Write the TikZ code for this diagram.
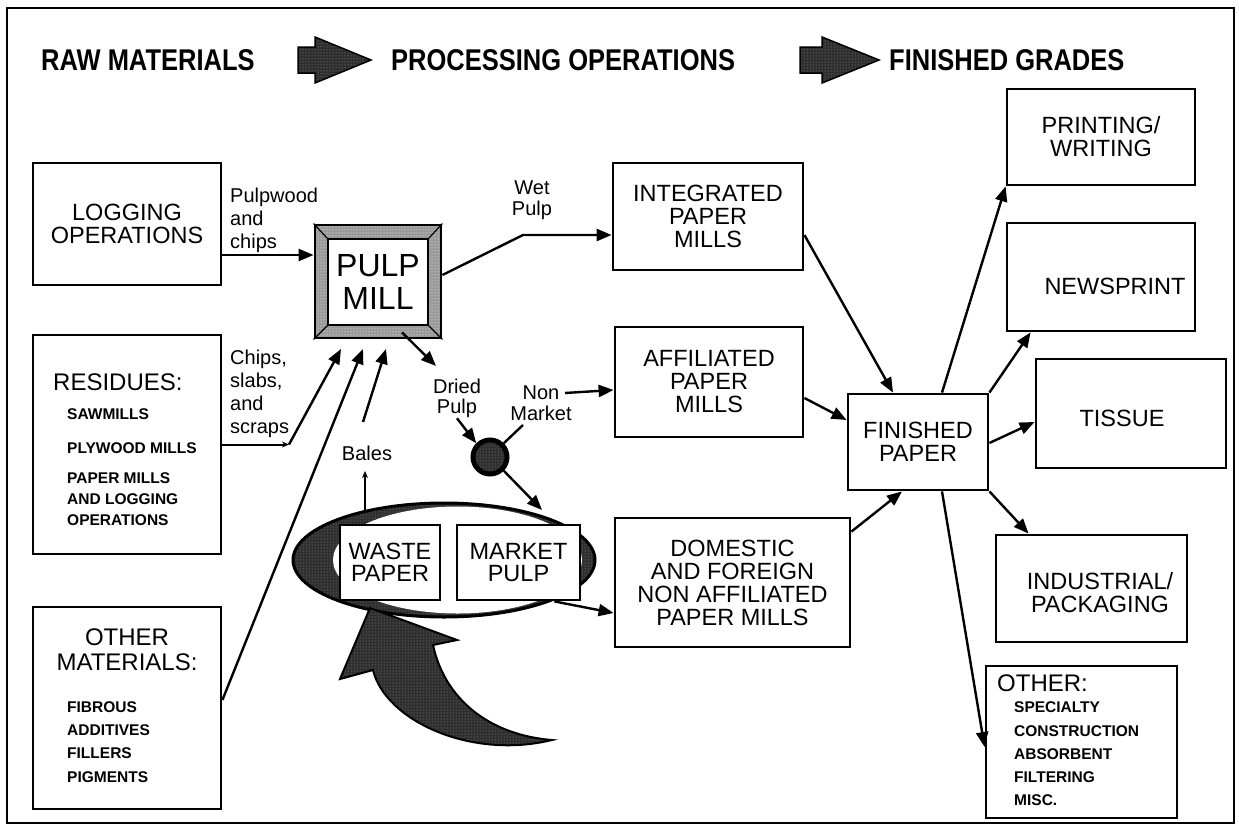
\documentclass[tikz,border=0pt]{standalone}
\usepackage{fontspec}
\setmainfont{Liberation Sans}
\newfontfamily\hdrfont[FakeStretch=0.85]{Liberation Sans}
\usetikzlibrary{arrows.meta,patterns}
\newcommand{\fsz}[2]{\fontsize{#1}{#2}\selectfont}
\begin{document}
\begin{tikzpicture}[x=1pt,y=-1pt,
  box/.style={draw,line width=2.8pt,inner sep=0pt,align=center,font=\fsz{23.5}{23}},
  btxt/.style={inner sep=0pt,align=center,font=\fsz{23.5}{23}},
  lbl/.style={inner sep=0pt,align=left,font=\fsz{20}{23}},
  clbl/.style={inner sep=0pt,align=center,font=\fsz{20}{20.5}},
  item/.style={inner sep=0pt,anchor=west,align=left,font=\bfseries\fsz{15.5}{15.5}},
  ttl/.style={inner sep=0pt,align=center,font=\fsz{24}{25}},
  conn/.style={line width=2.4pt,-{Triangle[length=15pt,width=12pt]}},
  smallarr/.style={line width=2pt,-{Stealth[length=7pt,width=6pt,open]}},
  plain/.style={line width=2.4pt},
  hd/.style={inner sep=0pt,anchor=west,font=\hdrfont\bfseries\fsz{30}{30}},
  stipdark/.style={preaction={fill=black!82},pattern=dots,pattern color=black!40},
  stipmid/.style={preaction={fill=black!40},pattern=dots,pattern color=white},
]
\useasboundingbox (0,0) rectangle (1239,827);
\draw[line width=2.2pt] (7,8) rectangle (1234,823);

% header
\node[hd] (h1) at (41,60) {RAW MATERIALS};
\node[hd] (h2) at (391,60) {PROCESSING OPERATIONS};
\node[hd] (h3) at (889,60) {FINISHED GRADES};
\draw[line width=1.5pt,stipdark] (298,47) -- (315,47) -- (315,37) -- (371,60) -- (315,83) -- (315,73) -- (298,73) -- cycle;
\draw[line width=1.5pt,stipdark] (800,47) -- (822,47) -- (822,37) -- (879,60) -- (822,83) -- (822,73) -- (800,73) -- cycle;

% left column
\node[box,minimum width=188,minimum height=122] (log) at (127,224) {LOGGING\\OPERATIONS};
\node[box,minimum width=188,minimum height=219] (res) at (127,444.5) {};
\node[ttl,anchor=west] (rest) at (53,382) {RESIDUES:};
\node[item] (r1) at (67,414) {SAWMILLS};
\node[item] (r2) at (67,448) {PLYWOOD MILLS};
\node[item,font=\bfseries\fsz{15.5}{21}] (r3) at (67,499) {PAPER MILLS\\AND LOGGING\\OPERATIONS};
\node[box,minimum width=188,minimum height=202] (oth) at (127,708) {};
\node[ttl] (otht) at (127,650) {OTHER\\MATERIALS:};
\node[item,font=\bfseries\fsz{15.5}{23.3}] (o1) at (67,742) {FIBROUS\\ADDITIVES\\FILLERS\\PIGMENTS};

% pulp mill
\node[draw,line width=2.8pt,minimum width=126,minimum height=113,stipmid] (pulp) at (378,281.5) {};
\node[draw,line width=1.6pt,fill=white,minimum width=100,minimum height=86,inner sep=0pt,align=center,font=\fsz{32}{33}] (pulpin) at (378,282) {PULP\\MILL};
\foreach \c in {north west,north east,south west,south east} \draw[line width=1.2pt] (pulp.\c) -- (pulpin.\c);

% labels
\node[lbl,anchor=west] (pw) at (230,220.5) {Pulpwood\\and\\chips};
\node[lbl,anchor=west] (csl) at (230,393.5) {Chips,\\slabs,\\and\\scraps};
\node[clbl] (wet) at (532,200) {Wet\\Pulp};
\node[clbl] (dried) at (457,398.5) {Dried\\Pulp};
\node[clbl] (nonm) at (541,403) {Non\\Market};
\node[clbl] (bales) at (367,453) {Bales};

% mills
\node[box,minimum width=190,minimum height=107] (integ) at (708,216.5) {INTEGRATED\\PAPER\\MILLS};
\node[box,minimum width=188,minimum height=110] (affil) at (709,382) {AFFILIATED\\PAPER\\MILLS};
\node[box,minimum width=235,minimum height=129] (dom) at (732.5,582.5) {DOMESTIC\\AND FOREIGN\\NON AFFILIATED\\PAPER MILLS};
\node[box,minimum width=140,minimum height=96] (fin) at (918,442) {FINISHED\\PAPER};

% grades
\node[box,minimum width=188,minimum height=96] (print) at (1101,137) {PRINTING/\\WRITING};
\node[box,minimum width=188,minimum height=108] (news) at (1101,277) {};
\node[btxt] (newst) at (1115,286) {NEWSPRINT};
\node[box,minimum width=190,minimum height=109] (tiss) at (1131,413.5) {};
\node[btxt] (tisst) at (1122,418) {TISSUE};
\node[box,minimum width=191,minimum height=107] (indus) at (1091.5,588.5) {};
\node[btxt] (indust) at (1100,593) {INDUSTRIAL/\\PACKAGING};
\node[box,minimum width=191,minimum height=152] (othg) at (1081.5,742) {};
\node[ttl,anchor=west] (othgt) at (997,683) {OTHER:};
\node[item,font=\bfseries\fsz{15.5}{23.2}] (og) at (1014,754) {SPECIALTY\\CONSTRUCTION\\ABSORBENT\\FILTERING\\MISC.};

% ellipse with waste paper / market pulp
\draw[line width=3pt,stipdark] (444,560) ellipse [x radius=151,y radius=57];
\fill[white] (457.5,560) ellipse [x radius=124.5,y radius=53.5];
\node[box,fill=white,minimum width=100,minimum height=75,font=\fsz{23.5}{22}] (waste) at (390,562.5) {WASTE\\PAPER};
\node[box,fill=white,minimum width=123,minimum height=75,font=\fsz{23.5}{22}] (market) at (518.5,562.5) {MARKET\\PULP};

% dried pulp junction
\node[circle,draw,line width=5pt,minimum size=34,inner sep=0pt,stipdark] (circ) at (490,457) {};

% big curved arrow
\draw[line width=2pt,stipdark] (370,608) -- (457,640) -- (433,645)
  .. controls (445,700) and (490,735) .. (552,740)
  .. controls (470,760) and (385,720) .. (373,670)
  -- (340,679) -- cycle;

% coordinates
\coordinate (t1) at (341,349);
\coordinate (t2) at (363,349);
\coordinate (t3) at (386,349);
\coordinate (sc) at (289,444.5);
\coordinate (bs) at (363,422);
\coordinate (bt) at (365,512);
\coordinate (bh) at (365,471);
\coordinate (wetk) at (523,235);
\coordinate (dtip) at (436,366);
\coordinate (nm0) at (523,425);
\coordinate (nm1) at (565,393);
\coordinate (mtip) at (542,510);

% connectors
\draw[conn] ([yshift=-31pt]log.east) -- ([yshift=-31pt]log.east -| pulp.west);
\draw[smallarr] (res.east) -- (sc);
\draw[conn] (sc) -- (t1);
\draw[conn] ([yshift=8pt]oth.east) -- (t2);
\draw[conn] (bs) -- (t3);
\draw[smallarr] (bt) -- (bh);
\draw[conn] ([yshift=6.5pt]pulp.east) -- (wetk) -- (wetk -| integ.west);
\draw[conn] ([xshift=24pt,yshift=7pt]pulp.south) -- (dtip);
\draw[conn] (dried.south) -- (circ.north west);
\draw[plain] (circ.north east) -- (nm0);
\draw[conn] (nm1) -- ([yshift=-8pt]affil.west);
\draw[conn] (circ.south east) -- (mtip);
\draw[conn] ([xshift=-27pt]market.south east) -- ([yshift=-30.5pt]dom.west);
\draw[conn] ([yshift=-18.5pt]integ.east) -- ([xshift=-25pt]fin.north);
\draw[conn] ([yshift=-16pt]affil.east) -- ([yshift=22pt]fin.west);
\draw[conn] ([yshift=-15pt]dom.north east) -- ([xshift=-16pt]fin.south);
\draw[conn] ([xshift=24pt]fin.north) -- (print.south west);
\draw[conn] (fin.north east) -- ([xshift=25pt]news.south west);
\draw[conn] ([yshift=-1pt]fin.east) -- ([yshift=-8.5pt]tiss.west);
\draw[conn] (fin.south east) -- ([xshift=34pt]indus.north west);
\draw[conn] ([xshift=24pt]fin.south) -- ([yshift=-5pt]othg.west);
\end{tikzpicture}
\end{document}
